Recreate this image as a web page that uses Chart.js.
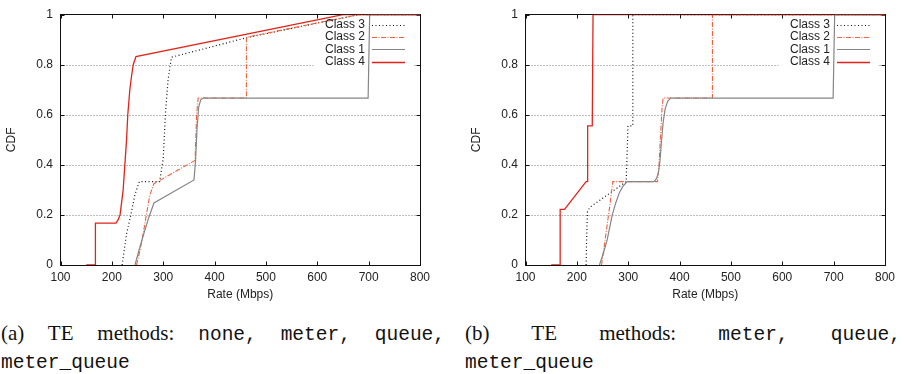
<!DOCTYPE html>
<html>
<head>
<meta charset="utf-8">
<script src="https://cdn.jsdelivr.net/npm/chart.js@4.4.0/dist/chart.umd.min.js"></script>
<style>
  html, body { margin: 0; padding: 0; background: #fff; }
  body { width: 904px; height: 374px; position: relative; overflow: hidden; }
  .plot { position: absolute; top: 0; }
  .cap { position: absolute; font-family: "Liberation Serif", serif; font-size: 21px; color: #111; line-height: 26px; white-space: nowrap; }
  .cap.first { white-space: normal; text-align: justify; text-align-last: justify; }
  .tt { font-family: "Liberation Mono", monospace; font-size: 19.5px; }
</style>
</head>
<body>
<canvas id="chartA" class="plot" width="450" height="305" style="left:0px"></canvas>
<canvas id="chartB" class="plot" width="439" height="305" style="left:465px"></canvas>

<div class="cap first" style="left:1px;top:320px;width:444px">(a) TE methods: <span class="tt">none,</span> <span class="tt">meter,</span> <span class="tt">queue,</span></div>
<div class="cap" style="left:1px;top:348px"><span class="tt">meter_queue</span></div>
<div class="cap first" style="left:465px;top:320px;width:436px">(b) TE methods: <span class="tt">meter,</span> <span class="tt">queue,</span></div>
<div class="cap" style="left:465px;top:348px"><span class="tt">meter_queue</span></div>

<script>
// axes
const xTicks = [100, 200, 300, 400, 500, 600, 700, 800];
const yTicks = [0, 0.2, 0.4, 0.6, 0.8, 1];
const yTickLabels = ['0', '0.2', '0.4', '0.6', '0.8', '1'];
const classNames = ['Class 3', 'Class 2', 'Class 1', 'Class 4'];

// (a) none, meter, queue, meter_queue
const a3Rate = [220, 228.6, 237, 244.8, 253.5, 293, 300, 304.5, 309.5, 316, 462, 680, 800];
const a3Cdf  = [0, 0.124, 0.2, 0.28, 0.333, 0.333, 0.425, 0.61, 0.74, 0.83, 0.908, 1, 1];
const a2Rate = [248, 255, 262, 268, 274, 282, 362, 365, 368, 462, 462, 680, 800];
const a2Cdf  = [0, 0.06, 0.137, 0.21, 0.28, 0.325, 0.418, 0.6, 0.667, 0.667, 0.91, 1, 1];
const a1Rate = [245, 253, 262, 272, 282, 360, 363, 366, 369, 373, 378, 699, 702, 800];
const a1Cdf  = [0, 0.06, 0.124, 0.19, 0.248, 0.34, 0.42, 0.55, 0.63, 0.66, 0.667, 0.667, 1, 1];
const a4Rate = [150, 168, 168, 208, 212, 216, 222, 225.3, 228.6, 231, 235, 238, 241.6, 247, 650, 800];
const a4Cdf  = [0, 0, 0.167, 0.167, 0.18, 0.2, 0.3, 0.4, 0.5, 0.6, 0.7, 0.75, 0.8, 0.833, 1, 1];

// (b) meter, queue, meter_queue
const b3Rate = [218, 219, 220.5, 225, 296, 298, 299.5, 309, 309, 800];
const b3Cdf  = [0, 0.1, 0.21, 0.23, 0.333, 0.45, 0.556, 0.556, 1, 1];
const b2Rate = [248, 253, 259, 265, 270, 357, 360, 363, 366, 368, 464, 464, 800];
const b2Cdf  = [0, 0.07, 0.16, 0.25, 0.333, 0.333, 0.4, 0.52, 0.63, 0.667, 0.667, 1, 1];
const b1Rate = [244, 252, 259, 264, 269, 276, 283, 290, 298, 350, 355, 359, 362, 365, 368, 372, 377, 383, 699, 702, 800];
const b1Cdf  = [0, 0.05, 0.1, 0.15, 0.2, 0.25, 0.29, 0.315, 0.333, 0.333, 0.345, 0.37, 0.42, 0.5, 0.57, 0.625, 0.655, 0.667, 0.667, 1, 1];
const b4Rate = [150, 167.5, 167.5, 176, 218, 220.5, 221, 230, 231.5, 800];
const b4Cdf  = [0, 0, 0.222, 0.222, 0.333, 0.333, 0.556, 0.556, 1, 1];

// line look for each class (same order as classNames)
const lineStyles = [
  { color: '#111111', width: 1.2, dash: [1, 2.5] },
  { color: '#f0603c', width: 1.1, dash: [5, 1.5, 1, 1.5] },
  { color: '#858585', width: 1.2, dash: [] },
  { color: '#e2231a', width: 1.3, dash: [] }
];

Chart.defaults.font.family = '"Liberation Sans", Arial, sans-serif';
Chart.defaults.font.size = 12;
Chart.defaults.color = '#222';

function pts(rate, cdf) {
  return rate.map((r, i) => ({ x: r, y: cdf[i] }));
}

// grid, frame, inward ticks and the key, gnuplot style
const gnuplotLook = {
  id: 'gnuplotLook',
  beforeDatasetsDraw(chart) {
    const { ctx, chartArea: a, scales: { x, y } } = chart;
    const L = Math.floor(a.left) + 0.5, R = Math.floor(a.right) + 0.5;
    const T = Math.floor(a.top) + 0.5, B = Math.floor(a.bottom) + 0.5;
    ctx.save();
    ctx.lineWidth = 1;
    ctx.strokeStyle = '#7a7a7a';
    ctx.setLineDash([1, 2]);
    yTicks.forEach(v => {
      if (v <= 0 || v >= 1) return;
      const py = Math.round(y.getPixelForValue(v)) + 0.5;
      ctx.beginPath(); ctx.moveTo(L, py); ctx.lineTo(R, py); ctx.stroke();
    });
    ctx.setLineDash([]);
    // key area hides the grid only
    ctx.fillStyle = '#fff';
    ctx.fillRect(R - 107, T + 1, 100, 55);
    // frame
    ctx.strokeStyle = '#111';
    ctx.strokeRect(L, T, R - L, B - T);
    // mirrored inward ticks
    ctx.beginPath();
    xTicks.forEach(v => {
      const px = Math.round(x.getPixelForValue(v)) + 0.5;
      ctx.moveTo(px, B); ctx.lineTo(px, B - 4);
      ctx.moveTo(px, T); ctx.lineTo(px, T + 4);
    });
    yTicks.forEach(v => {
      const py = Math.round(y.getPixelForValue(v)) + 0.5;
      ctx.moveTo(L, py); ctx.lineTo(L + 4, py);
      ctx.moveTo(R, py); ctx.lineTo(R - 4, py);
    });
    ctx.stroke();
    ctx.restore();
  },
  afterDatasetsDraw(chart) {
    const { ctx, chartArea: a } = chart;
    const R = Math.floor(a.right);
    ctx.save();
    ctx.font = '12px "Liberation Sans", Arial, sans-serif';
    ctx.textAlign = 'right';
    ctx.textBaseline = 'middle';
    chart.data.datasets.forEach((ds, i) => {
      const ry = a.top + 10 + i * 12.3;
      ctx.fillStyle = '#222';
      ctx.fillText(ds.label, R - 55, ry);
      ctx.strokeStyle = ds.borderColor;
      ctx.lineWidth = ds.borderWidth;
      ctx.setLineDash(ds.borderDash);
      ctx.beginPath();
      ctx.moveTo(R - 48, Math.round(ry) + 0.5);
      ctx.lineTo(R - 15, Math.round(ry) + 0.5);
      ctx.stroke();
    });
    ctx.restore();
  }
};

function makeChart(id, series, padRight) {
  const datasets = series.map((s, i) => ({
    label: classNames[i],
    data: pts(s[0], s[1]),
    borderColor: lineStyles[i].color,
    borderWidth: lineStyles[i].width,
    borderDash: lineStyles[i].dash,
    pointRadius: 0,
    tension: 0,
    fill: false,
    order: 4 - i
  }));

  return new Chart(document.getElementById(id), {
    type: 'line',
    data: { datasets: datasets },
    options: {
      responsive: false,
      animation: false,
      devicePixelRatio: 1,
      layout: { padding: { left: 0, right: padRight, top: 10, bottom: 0 } },
      plugins: { legend: { display: false }, tooltip: { enabled: false } },
      scales: {
        x: {
          type: 'linear',
          min: 100,
          max: 800,
          afterBuildTicks: s => { s.ticks = xTicks.map(v => ({ value: v })); },
          afterFit: s => { s.height = 40; },
          grid: { display: false, drawTicks: false },
          border: { display: false },
          ticks: { padding: 5, maxRotation: 0 },
          title: { display: true, text: 'Rate (Mbps)', padding: { top: 0, bottom: 3 }, font: { size: 12 } }
        },
        y: {
          type: 'linear',
          min: 0,
          max: 1,
          afterBuildTicks: s => { s.ticks = yTicks.map(v => ({ value: v })); },
          afterFit: s => { s.width = 60.5; },
          grid: { display: false, drawTicks: false },
          border: { display: false },
          ticks: { padding: 7.5, callback: (v, i) => yTickLabels[i] },
          title: { display: true, text: 'CDF', padding: { top: 4, bottom: 0 }, font: { size: 12 } }
        }
      }
    },
    plugins: [gnuplotLook]
  });
}

makeChart('chartA', [[a3Rate, a3Cdf], [a2Rate, a2Cdf], [a1Rate, a1Cdf], [a4Rate, a4Cdf]], 30);
makeChart('chartB', [[b3Rate, b3Cdf], [b2Rate, b2Cdf], [b1Rate, b1Cdf], [b4Rate, b4Cdf]], 19);
</script>
</body>
</html>
